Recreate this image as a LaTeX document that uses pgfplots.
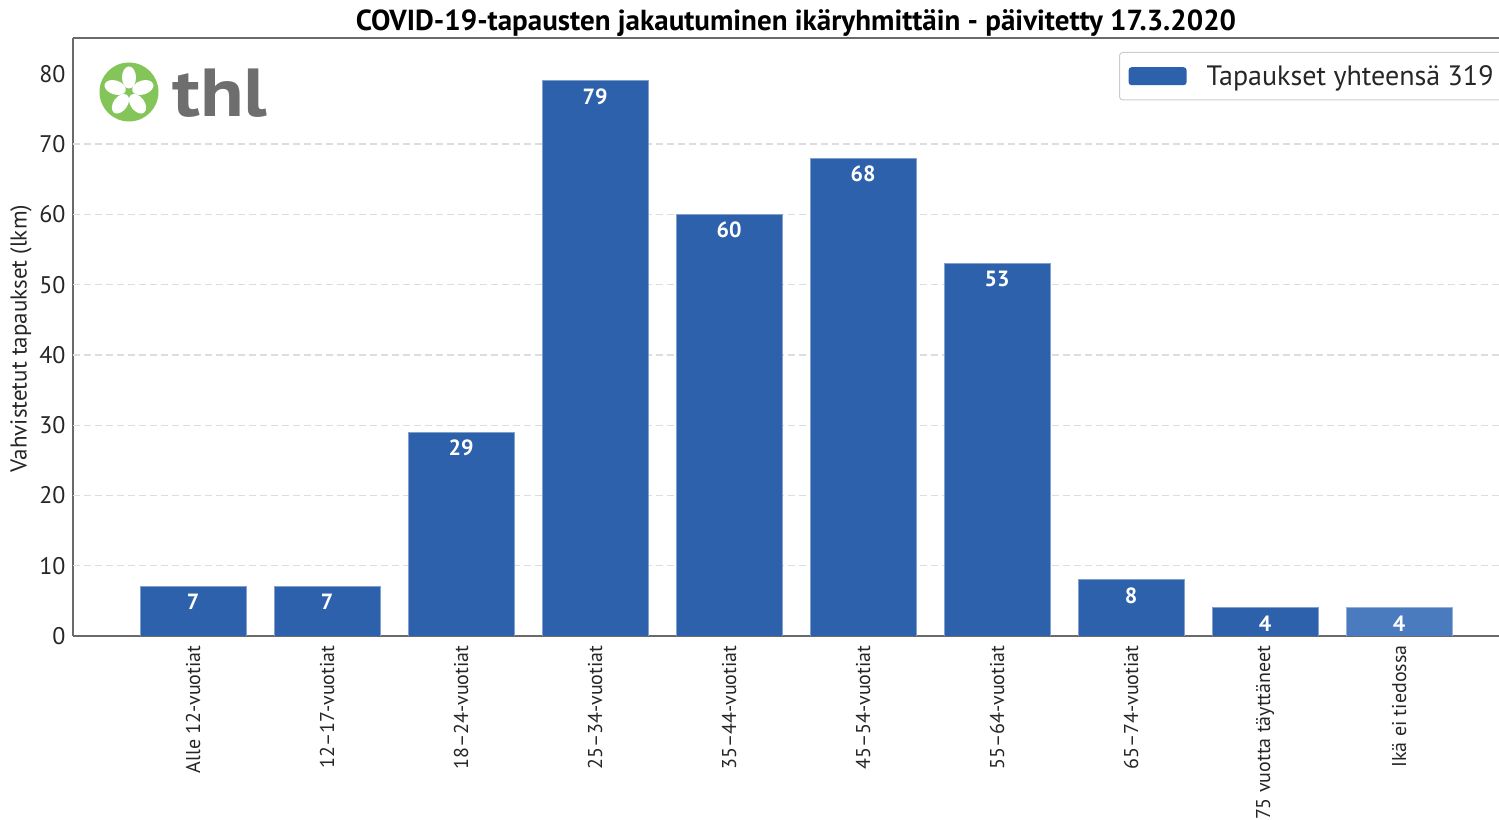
\documentclass[border=0pt]{standalone}
\usepackage{pgfplots}
\pgfplotsset{compat=1.18}
\usepackage{fontspec}
\setmainfont{PT Sans}
\definecolor{barblue}{HTML}{2E61AC}
\definecolor{barlight}{HTML}{4A7BBF}
\definecolor{thlgreen}{HTML}{84C55A}
\definecolor{thlgray}{HTML}{6E6E6E}
\definecolor{gridgray}{HTML}{DADDE2}
\definecolor{axgray}{HTML}{6A6A6A}
\begin{document}
\begin{tikzpicture}[font=\fontsize{20bp}{24bp}\selectfont]
\begin{axis}[
  name=ax,
  scale only axis,
  width=1426bp, height=598bp,
  xmin=-0.896, xmax=9.746,
  ymin=0, ymax=85.1,
  axis x line*=bottom, axis y line*=left,
  axis line style={axgray, line width=1.2bp},
  ytick={0,10,...,80},
  xtick={0,...,9},
  xticklabels={Alle 12-vuotiat,12--17-vuotiat,18--24-vuotiat,25--34-vuotiat,35--44-vuotiat,45--54-vuotiat,55--64-vuotiat,65--74-vuotiat,75 vuotta täyttäneet,Ikä ei tiedossa},
  major tick length=0pt,
  /pgf/number format/assume math mode=true,
  yticklabel style={font=\fontsize{24bp}{28bp}\selectfont, color=black!85, xshift=-4bp},
  xticklabel style={rotate=90, anchor=east, font=\fontsize{20bp}{24bp}\selectfont, color=black!85, xshift=-6bp},
  extra y ticks={10,20,...,70},
  extra y tick labels={},
  extra y tick style={ymajorgrids=true, major grid style={gridgray, line width=1.3bp, dash pattern=on 7bp off 4bp}},
  ylabel={Vahvistetut tapaukset (lkm)},
  ylabel style={at={(axis description cs:-0.0365,0.4975)}, anchor=center, rotate=0, font=\fontsize{23bp}{27bp}\selectfont, color=black!85},
  bar width=0.79,
  legend style={at={([xshift=6bp,yshift=-14bp]rel axis cs:1,1)}, anchor=north east, draw=black!20, rounded corners=3bp, line width=1bp, font=\fontsize{28bp}{32bp}\selectfont, inner xsep=9bp, inner ysep=11bp, column sep=0bp, text=black!85},
  legend image code/.code={\fill[barblue, draw=none] (0bp,-9bp) rectangle (58bp,9bp); \path[draw=none, fill=none] (0bp,0bp) -- (76bp,0bp);},
  nodes near coords,
  every node near coord/.append style={anchor=north, yshift=-4bp, text=white, font=\bfseries\fontsize{22bp}{26bp}\selectfont},
]
\addplot[ybar, bar shift=0pt, fill=barblue, draw=barblue!60!white, line width=0.8bp] coordinates {
 (0,7) (1,7) (2,29) (3,79) (4,60) (5,68) (6,53) (7,8) (8,4)};
\addlegendentry{Tapaukset yhteensä 319}
\addplot[ybar, bar shift=0pt, fill=barlight, draw=barlight!60!white, line width=0.8bp, forget plot] coordinates {(9,4)};
\end{axis}
\draw[axgray, line width=1.2bp] (ax.north west) -- (ax.north east);
\node[anchor=south, font=\bfseries\fontsize{29bp}{33bp}\selectfont, inner sep=0pt] at ([xshift=10bp,yshift=1bp]ax.north) {COVID-19-tapausten jakautuminen ikäryhmittäin - päivitetty 17.3.2020};
% logo
\begin{scope}[shift={([xshift=56bp,yshift=-54bp]ax.north west)}]
 \fill[thlgreen] (0,0) circle (29.5bp);
 \foreach \a in {90,162,234,306,18} {
   \fill[white, rotate=\a] (14.5bp,0) ellipse (11bp and 7bp);
 }
\end{scope}
\node[anchor=base west, inner sep=0pt, text=thlgray, xscale=1.18, font=\bfseries\fontsize{68bp}{74bp}\selectfont] at ([xshift=99bp,yshift=-79bp]ax.north west) {thl};
\pgfresetboundingbox
\path ([xshift=-73bp,yshift=38bp]ax.north west) rectangle ([yshift=-184bp]ax.south east);
\end{tikzpicture}
\end{document}
